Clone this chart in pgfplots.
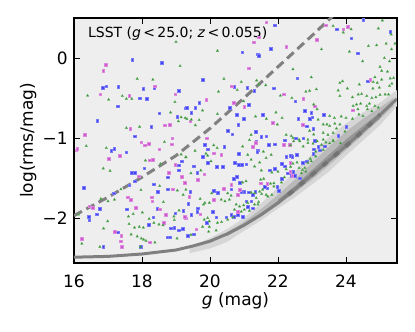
\documentclass[border=0pt]{standalone}
\usepackage{fontspec}
\setmainfont{DejaVu Sans}
\usepackage{pgfplots}
\pgfplotsset{compat=1.18}
\definecolor{bgc}{RGB}{238,238,238}
\definecolor{blueM}{RGB}{65,65,245}
\definecolor{magM}{RGB}{205,85,205}
\definecolor{greenM}{RGB}{45,145,45}
\definecolor{lineG}{RGB}{128,128,128}
\definecolor{cA}{RGB}{214,214,214}
\definecolor{cB}{RGB}{185,185,185}
\definecolor{cC}{RGB}{150,150,150}
\begin{document}
\begin{tikzpicture}
\begin{axis}[
  scale only axis, width=323pt, height=245pt,
  xmin=16, xmax=25.5, ymin=-2.5625, ymax=0.5,
  axis background/.style={fill=bgc},
  axis line style={line width=1.3pt},
  every tick/.style={black, line width=0.9pt},
  major tick length=6pt,
  tick align=inside,
  xtick pos=both, ytick pos=both,
  xticklabel pos=lower, yticklabel pos=left,
  xtick={16,18,20,22,24}, xticklabels={16,18,20,22,24},
  ytick={-2,-1,0}, yticklabels={−2,−1,0},
  minor tick num=0,
  tick label style={font=\fontsize{17}{20}\selectfont},
  xticklabel style={inner sep=0pt, anchor=north, yshift=-11.5pt},
  yticklabel style={inner sep=0pt, anchor=east, xshift=-6pt},
  xlabel={\textit{g} (mag)},
  ylabel={log(rms/mag)},
  label style={font=\fontsize{17}{20}\selectfont},
  xlabel style={at={(axis description cs:0.5,-0.155)}, anchor=center},
  ylabel style={at={(axis description cs:-0.142,0.5)}, anchor=center, rotate=0},
  clip=true,
]
% density contours
\addplot[draw=none, fill=cA] coordinates {
(19.4,-2.37) (20,-2.25) (20.5,-2.14) (21,-2.00) (21.5,-1.82) (22,-1.62) (22.5,-1.42) (23,-1.20) (23.5,-0.99) (24,-0.82) (24.5,-0.68) (25,-0.56) (25.5,-0.40)
(25.5,-0.60) (25,-0.84) (24.5,-1.03) (24,-1.22) (23.5,-1.42) (23,-1.58) (22.5,-1.74) (22,-1.88) (21.5,-2.03) (21,-2.16) (20.5,-2.30) (20,-2.38) (19.4,-2.44)} --cycle;
\addplot[draw=none, fill=cB] coordinates {
(20.5,-2.18) (21,-2.05) (21.5,-1.89) (22,-1.71) (22.5,-1.52) (23,-1.31) (23.5,-1.11) (24,-0.92) (24.5,-0.76) (25,-0.62) (25.4,-0.50)
(25.4,-0.60) (25,-0.76) (24.5,-0.96) (24,-1.15) (23.5,-1.34) (23,-1.52) (22.5,-1.68) (22,-1.84) (21.5,-1.98) (21,-2.11) (20.5,-2.23)} --cycle;
\addplot[draw=none, fill=cC] coordinates {
(22,-1.77) (22.5,-1.60) (23,-1.40) (23.5,-1.21) (24,-1.02) (24.5,-0.85) (25,-0.68)
(25,-0.76) (24.5,-0.93) (24,-1.12) (23.5,-1.30) (23,-1.49) (22.5,-1.67) (22,-1.82)} --cycle;
% solid curve
\addplot[lineG, line width=3pt] coordinates {
(16,-2.49) (17,-2.48) (18,-2.45) (19,-2.40) (19.5,-2.35) (20,-2.29) (20.5,-2.20) (21,-2.09) (21.5,-1.96) (22,-1.81) (22.5,-1.64) (23,-1.46) (23.5,-1.28) (24,-1.10) (24.5,-0.91) (25,-0.71) (25.5,-0.51)};
\addplot[black!55, line width=4pt, dash pattern=on 6pt off 9pt] coordinates {
(22.3,-1.71) (22.5,-1.64) (23,-1.46) (23.5,-1.28) (24,-1.10) (24.5,-0.91) (25,-0.71)};
% blue squares
\addplot[only marks, mark=square*, mark size=1.3pt, blueM, mark options={draw=blueM!70!white, line width=0.3pt, fill=blueM}] table {
17.71 -0.02
18.57 -0.06
16.94 -0.35
16.84 -0.37
17.30 -0.36
18.03 -0.38
18.36 -0.375
19.07 -0.41
17.93 -0.50
18.13 -0.51
19.29 -0.625
17.28 -0.60
18.50 -0.69
19.03 -0.73
16.68 -0.78
18.27 -0.86
17.78 -0.975
17.09 -1.16
17.18 -1.13
17.53 -1.175
19.08 -1.34
19.16 -1.29
17.70 -1.43
17.79 -1.43
18.06 -1.375
19.08 -1.40
18.75 -1.49
18.35 -1.575
17.62 -1.59
17.79 -1.54
18.75 -1.64
18.46 -1.67
16.28 -1.62
17.16 -1.69
16.75 -1.88
16.43 -1.98
16.45 -2.025
16.67 -1.95
17.54 -1.89
18.44 -1.88
18.97 -1.94
19.21 -1.905
18.33 -1.99
18.19 -2.08
18.85 -2.125
18.95 -2.12
19.08 -2.15
19.20 -2.135
17.29 -2.175
18.74 -2.24
18.82 -2.24
16.86 -2.355
17.96 -2.36
21.90 0.41
20.95 0.075
21.41 0.05
21.43 0.03
21.79 0.12
19.78 -0.27
20.71 -0.355
21.09 -0.37
21.30 -0.41
21.87 -0.375
19.68 -0.56
21.13 -0.58
20.58 -0.62
19.32 -0.62
19.56 -0.62
19.45 -0.68
20.78 -0.71
20.99 -0.76
21.55 -0.71
20.83 -0.83
21.34 -0.92
20.52 -0.91
20.65 -0.95
21.51 -0.98
21.65 -0.975
21.36 -1.04
22.19 -1.025
19.85 -1.085
20.42 -1.105
21.41 -1.15
21.39 -1.17
21.72 -1.085
21.90 -1.075
19.93 -1.14
19.78 -1.23
20.84 -1.195
22.24 -1.23
22.37 -1.22
19.52 -1.35
19.62 -1.43
19.93 -1.305
20.19 -1.36
20.37 -1.36
20.72 -1.31
20.84 -1.33
20.93 -1.33
21.06 -1.325
21.75 -1.40
21.90 -1.385
22.10 -1.32
22.19 -1.35
22.29 -1.44
22.39 -1.47
19.42 -1.67
19.36 -1.82
19.63 -1.875
19.62 -1.92
19.44 -1.96
19.91 -2.055
20.18 -1.99
20.47 -1.99
20.62 -1.96
19.34 -2.22
19.52 -2.20
20.08 -1.92
20.11 -1.66
20.22 -1.68
20.62 -1.64
20.70 -1.51
20.79 -1.48
20.87 -1.555
20.92 -1.67
21.01 -1.67
21.13 -1.675
21.26 -1.71
21.33 -1.67
21.60 -1.605
21.68 -1.625
21.98 -1.61
22.02 -1.655
22.10 -1.51
21.06 -1.79
21.21 -1.79
21.11 -1.855
21.26 -1.875
20.82 -1.96
20.96 -1.98
20.70 -1.98
23.72 0.36
24.51 0.48
25.30 0.33
24.15 0.25
24.34 0.06
22.56 -0.25
24.63 -0.29
22.51 -0.54
22.79 -0.66
22.98 -0.68
23.01 -0.74
22.93 -0.76
23.35 -0.71
22.59 -0.76
24.00 -0.86
22.84 -0.85
23.03 -0.88
23.77 -0.97
22.52 -1.00
22.74 -1.00
23.08 -1.03
23.05 -1.14
23.18 -1.11
23.23 -1.15
23.03 -1.195
23.38 -1.10
22.42 -1.23
22.54 -1.21
22.72 -1.305
22.85 -1.29
22.44 -1.42
22.49 -1.47
22.64 -1.50
};
% magenta squares
\addplot[only marks, mark=square*, mark size=1.3pt, magM, mark options={draw=magM!70!white, line width=0.3pt, fill=magM}] table {
16.93 -0.08
16.86 -0.16
18.37 -0.35
16.77 -0.45
17.62 -0.47
18.98 -0.45
18.66 -0.84
18.81 -0.83
17.65 -0.88
16.31 -0.96
18.89 -1.00
17.98 -1.05
16.06 -1.15
16.09 -1.13
17.34 -1.22
17.02 -1.26
18.08 -1.09
18.19 -1.07
18.87 -1.075
18.50 -1.14
18.22 -1.275
18.32 -1.27
18.97 -1.33
17.90 -1.475
18.78 -1.43
19.17 -1.48
18.90 -1.64
17.57 -1.74
17.67 -1.77
18.29 -1.74
18.30 -1.79
16.45 -1.85
16.55 -1.87
17.82 -1.87
18.52 -1.89
18.70 -1.955
19.28 -2.00
18.64 -2.06
17.19 -2.17
17.39 -2.22
18.23 -2.30
16.23 -2.26
17.38 -2.29
17.41 -2.36
21.65 0.45
21.29 0.20
21.43 0.26
22.24 0.145
21.14 -0.125
20.64 -0.35
22.17 -0.45
19.89 -0.52
20.70 -0.56
21.01 -0.605
19.42 -0.79
21.85 -0.81
19.90 -1.00
21.26 -1.105
21.35 -1.06
22.17 -1.085
20.11 -1.19
20.33 -1.21
19.83 -1.45
19.63 -1.52
19.26 -1.555
19.39 -1.73
19.71 -1.95
19.26 -1.98
19.59 -2.14
20.11 -1.77
20.40 -1.63
20.62 -1.58
20.87 -1.645
20.82 -1.71
21.49 -1.565
21.68 -1.57
20.82 -1.92
23.41 0.41
24.04 0.39
23.92 0.36
23.13 0.23
24.71 -0.27
22.74 -0.505
23.08 -0.60
24.19 -0.65
22.72 -0.83
22.34 -1.085
22.36 -1.305
22.36 -1.42
22.42 -1.47
};
% green triangles
\addplot[only marks, mark=triangle*, mark size=1.45pt, greenM, mark options={draw=greenM!75!white, line width=0.3pt, fill=greenM}] table {
19.00 0.20
19.12 -0.10
17.86 -0.26
18.32 -0.27
16.40 -0.47
17.02 -0.52
17.42 -0.475
17.54 -0.51
17.70 -0.51
18.97 -0.55
18.84 -0.68
19.15 -0.74
19.07 -0.79
19.27 -0.75
17.54 -0.875
17.93 -0.86
18.66 -1.05
16.36 -1.10
16.95 -1.125
19.15 -1.205
19.29 -1.24
18.10 -1.28
18.54 -1.325
16.86 -1.38
17.06 -1.41
18.52 -1.60
17.97 -1.65
19.04 -1.655
19.21 -1.71
17.38 -1.64
17.19 -1.77
17.00 -1.79
16.79 -1.76
18.63 -1.80
16.13 -1.955
16.99 -2.04
17.74 -1.95
17.60 -1.98
18.01 -1.93
19.09 -1.905
18.94 -1.98
18.95 -2.025
18.21 -2.01
18.35 -2.06
18.50 -2.08
18.62 -2.09
17.62 -2.075
17.78 -2.12
17.92 -2.11
18.04 -2.12
19.03 -2.255
16.87 -2.13
17.68 -2.205
17.86 -2.23
17.98 -2.255
18.05 -2.27
18.12 -2.285
18.38 -2.305
16.23 -2.32
16.76 -2.36
17.95 -2.36
20.22 0.09
22.44 -0.14
20.41 -0.26
20.92 -0.30
21.37 -0.28
21.44 -0.33
21.64 -0.34
22.07 -0.47
20.25 -0.42
20.80 -0.40
22.41 -0.50
20.99 -0.54
19.78 -0.655
19.32 -0.76
19.45 -0.77
19.68 -0.775
19.57 -0.84
20.22 -0.70
21.34 -0.73
21.66 -0.76
21.94 -0.68
22.12 -0.75
21.98 -0.83
21.21 -0.96
22.24 -0.96
22.39 -0.975
21.16 -1.025
20.11 -1.09
20.21 -1.125
20.96 -1.105
22.37 -1.09
19.88 -1.195
19.93 -1.22
19.56 -1.16
19.29 -1.24
21.11 -1.21
21.57 -1.17
21.65 -1.25
21.80 -1.21
19.44 -1.44
19.73 -1.405
20.03 -1.29
21.21 -1.27
21.46 -1.305
21.31 -1.355
21.51 -1.405
21.82 -1.43
22.00 -1.42
22.24 -1.39
22.37 -1.36
22.19 -1.49
19.29 -1.645
19.71 -1.76
19.81 -1.83
19.85 -1.81
19.98 -1.81
19.83 -2.02
19.93 -2.00
19.98 -2.04
20.22 -2.06
20.52 -2.02
20.67 -1.99
19.78 -2.11
19.98 -2.11
19.96 -2.17
19.44 -2.21
20.18 -2.155
20.34 -2.05
20.05 -1.69
20.33 -1.77
20.44 -1.79
20.57 -1.77
20.62 -1.72
20.52 -1.69
20.96 -1.555
21.06 -1.54
21.21 -1.68
21.31 -1.69
21.46 -1.67
21.55 -1.645
21.52 -1.70
21.65 -1.71
21.49 -1.52
21.58 -1.51
21.78 -1.57
21.88 -1.565
21.88 -1.605
22.10 -1.555
21.01 -1.895
21.16 -1.91
20.92 -1.92
20.77 -1.83
20.87 -1.855
20.72 -1.895
20.99 -1.84
21.11 -1.81
21.36 -1.75
21.43 -1.80
21.70 -1.73
21.82 -1.71
21.41 -1.83
21.31 -1.83
23.62 0.40
23.92 0.32
24.15 0.36
25.07 0.47
24.95 0.37
25.33 0.295
23.28 0.11
24.10 0.08
24.66 0.15
24.90 0.16
25.18 0.18
25.34 0.11
25.44 0.18
24.49 -0.04
25.13 0.00
25.28 -0.04
25.00 -0.11
25.05 -0.16
25.22 -0.17
22.98 -0.24
23.82 -0.31
23.90 -0.29
24.39 -0.33
24.85 -0.24
24.80 -0.30
24.92 -0.31
25.05 -0.27
25.30 -0.255
25.40 -0.25
24.79 -0.38
24.98 -0.37
25.28 -0.35
25.35 -0.32
23.77 -0.405
24.04 -0.38
22.82 -0.42
22.93 -0.41
23.13 -0.39
23.82 -0.475
24.19 -0.49
24.36 -0.455
24.46 -0.45
24.61 -0.475
24.76 -0.50
24.88 -0.49
25.00 -0.46
25.15 -0.455
25.25 -0.455
23.05 -0.58
23.15 -0.64
24.21 -0.60
24.31 -0.58
24.43 -0.57
24.61 -0.60
24.69 -0.57
24.63 -0.64
24.76 -0.665
24.85 -0.60
24.95 -0.62
24.35 -0.64
24.38 -0.705
24.50 -0.725
23.52 -0.725
23.66 -0.75
23.86 -0.73
24.00 -0.75
24.19 -0.76
23.18 -0.77
23.33 -0.83
23.44 -0.83
23.52 -0.85
23.67 -0.82
23.82 -0.83
22.93 -0.91
23.05 -0.955
23.33 -0.935
23.47 -0.96
23.62 -0.935
23.72 -0.88
23.97 -0.92
22.44 -1.00
22.62 -1.02
22.88 -1.02
23.33 -1.02
23.62 -1.03
22.46 -1.04
22.64 -1.04
22.74 -1.105
22.88 -1.06
23.03 -1.07
23.15 -1.04
23.28 -1.085
23.41 -1.055
23.52 -1.065
23.62 -1.04
23.84 -1.065
23.11 -1.17
23.33 -1.15
23.11 -1.23
22.95 -1.26
22.98 -1.29
22.88 -1.31
22.44 -1.32
22.56 -1.305
22.62 -1.375
22.72 -1.40
22.79 -1.375
22.69 -1.44
22.82 -1.42
};
% dashed curve
\addplot[lineG, line width=3pt, dash pattern=on 9pt off 5pt] coordinates {
(16,-1.97) (17,-1.74) (18,-1.49) (19,-1.22) (20,-0.88) (21,-0.50) (22,-0.11) (23,0.28) (23.6,0.52)};
\node[anchor=north west, inner sep=0pt, font=\fontsize{14}{16}\selectfont] at (rel axis cs:0.043,0.963)
  {LSST (\textit{g}\,<\,25.0; \textit{z}\,<\,0.055)};
\end{axis}
\path ([xshift=-74pt,yshift=-69pt]current axis.south west) rectangle ([xshift=18pt,yshift=18pt]current axis.north east);
\end{tikzpicture}
\end{document}
